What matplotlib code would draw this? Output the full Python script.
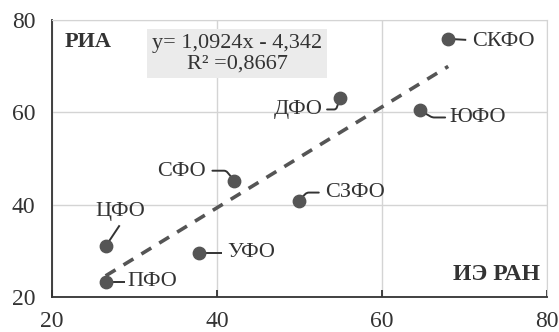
import numpy as np
import matplotlib
matplotlib.use("Agg")
import matplotlib.pyplot as plt

regions = ["ЦФО", "ПФО", "УФО", "СФО", "СЗФО", "ДФО", "ЮФО", "СКФО"]
x_iie = [26.5, 26.5, 37.8, 42.1, 49.9, 54.9, 64.6, 68.0]
y_ria = [31.0, 23.3, 29.6, 45.2, 40.9, 63.0, 60.4, 75.9]
slope, intercept, r2 = 1.0924, -4.342, 0.8667

# label offset (px), alignment, leader start (px), connection style (None = straight)
label_pos = {
    "ЦФО": ((15, 35), "center", (14, 21), None),
    "ПФО": ((22, 0), "left", (19, 0), None),
    "УФО": ((28, 0), "left", (23, 0), None),
    "СФО": ((-29, 9), "right", (-22, 10), "angle,angleA=0,angleB=130,rad=2"),
    "СЗФО": ((26, 8), "left", (20, 8), "angle,angleA=0,angleB=45,rad=2"),
    "ДФО": ((-17, -11), "right", (-13, -11), "angle,angleA=0,angleB=70,rad=2"),
    "ЮФО": ((29, -7), "left", (25, -7), "angle,angleA=0,angleB=-30,rad=2"),
    "СКФО": ((24, -3), "left", (18, -1), None),
}

plt.rcParams["font.family"] = ["Liberation Serif", "DejaVu Serif"]
fig = plt.figure(figsize=(5.59, 3.32), dpi=100)
ax = fig.add_axes([0.093, 0.105, 0.886, 0.835])
ax.set_xlim(20, 80)
ax.set_ylim(20, 80)

xs = np.array([min(x_iie), max(x_iie)])
ax.plot(xs, slope * xs + intercept, ls=(0, (3.2, 2.6)), color="#555555", lw=2.6, zorder=2)
ax.scatter(x_iie, y_ria, s=80, color="#555555", zorder=4)

to_px = ax.transData
to_data = ax.transData.inverted()
for name, x, y in zip(regions, x_iie, y_ria):
    (dx, dy), ha, (lx, ly), cs = label_pos[name]
    ax.annotate(name, (x, y), xytext=(dx, dy), textcoords="offset pixels",
                ha=ha, va="center", fontsize=16, color="#333333")
    if cs is None:
        # straight leader: pixel offset from the point, converted back to data units
        sx, sy = to_data.transform(to_px.transform((x, y)) + np.array([lx, ly]))
        ax.plot([sx, x], [sy, y], color="#333333", lw=1.4, zorder=3,
                solid_capstyle="butt")
    else:
        ax.annotate("", (x, y), xytext=(lx, ly), textcoords="offset pixels",
                    arrowprops=dict(arrowstyle="-", color="#333333", lw=1.4,
                                    shrinkA=0, shrinkB=2, connectionstyle=cs,
                                    patchA=None))

ax.text(0.026, 0.92, "РИА", transform=ax.transAxes, fontsize=16, fontweight="bold",
        color="#333333", ha="left", va="center")
ax.text(0.986, 0.08, "ИЭ РАН", transform=ax.transAxes, fontsize=17, fontweight="bold",
        color="#333333", ha="right", va="center")
eq = f"y= {slope:.4f}x - {-intercept:.3f}\nR² ={r2:.4f}".replace(".", ",")
ax.text(0.374, 0.879, eq, transform=ax.transAxes, fontsize=16, color="#333333",
        ha="center", va="center", linespacing=1.1,
        bbox=dict(boxstyle="square,pad=0.22", fc="#ebebeb", ec="none"))

ax.set_xticks([20, 40, 60, 80])
ax.set_yticks([20, 40, 60, 80])
ax.grid(True, color="#d4d4d4", lw=1)
ax.set_axisbelow(True)
for s in ["top", "right"]:
    ax.spines[s].set_color("#d4d4d4")
for s in ["left", "bottom"]:
    ax.spines[s].set_color("#333333")
    ax.spines[s].set_linewidth(1.3)
ax.tick_params(axis="x", direction="in", length=5, width=1.3, color="#333333",
               labelsize=17, labelcolor="#333333", pad=10)
ax.tick_params(axis="y", length=0, labelsize=17, labelcolor="#333333", pad=12)

fig.savefig("out.png", dpi=100)
